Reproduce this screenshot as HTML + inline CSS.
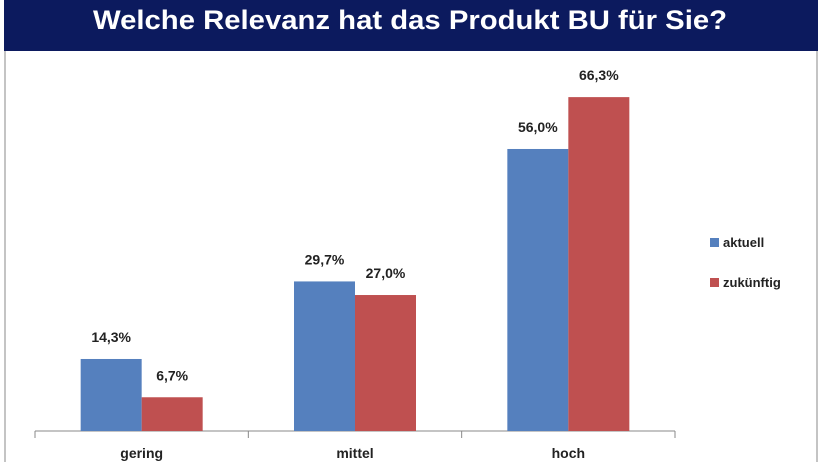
<!DOCTYPE html>
<html><head><meta charset="utf-8"><style>
body{margin:0;width:820px;height:462px;overflow:hidden;background:#fff;font-family:"Liberation Sans",sans-serif}
</style></head><body>
<svg width="820" height="462">
<rect x="4" y="0" width="814" height="51" fill="#0c1a5e"/>
<text x="410" y="29" text-anchor="middle" fill="#fff" font-weight="bold" font-size="27" textLength="634" lengthAdjust="spacingAndGlyphs">Welche Relevanz hat das Produkt BU für Sie?</text>
<line x1="5" y1="51" x2="5" y2="462" stroke="#888"/>
<line x1="817" y1="51" x2="817" y2="462" stroke="#888"/>
<g id="plot"></g>
<rect x="710" y="238" width="9" height="9" fill="#5580be"/>
<text x="723" y="247" font-size="13" font-weight="bold" fill="#222">aktuell</text>
<rect x="710" y="278" width="9" height="9" fill="#bf5050"/>
<text x="723" y="287" font-size="13" font-weight="bold" fill="#222">zukünftig</text>
</svg>
<script>
const categories=["gering","mittel","hoch"];
const aktuell=[14.3,29.7,56.0];
const zukuenftig=[6.7,27.0,66.3];
const labelsA=["14,3%","29,7%","56,0%"];
const labelsZ=["6,7%","27,0%","66,3%"];
const NS="http://www.w3.org/2000/svg";
const g=document.getElementById('plot');
const x0=35,x1=675,base=431,scale=5.036;
const band=(x1-x0)/categories.length;
const y=v=>base-v*scale;
function el(t,a){const e=document.createElementNS(NS,t);for(const k in a)e.setAttribute(k,a[k]);g.appendChild(e);return e;}
const ax=el('line',{x1:x0,y1:base,x2:x1,y2:base,stroke:'#888'});


for(let i=0;i<=categories.length;i++){const t=el('line',{x1:x0+i*band,y1:base,x2:x0+i*band,y2:base+7,stroke:'#888'});

}
categories.forEach((c,i)=>{
 const cx=x0+band*i+band/2;
 [[aktuell,labelsA,'#5580be',-61,'aktuell'],[zukuenftig,labelsZ,'#bf5050',0,'zukuenftig']].forEach(([s,l,col,off,nm])=>{
  const b=el('rect',{x:cx+off,y:y(s[i]),width:61,height:base-y(s[i]),fill:col});
  
  
  const t=el('text',{x:cx+off+30.5,y:y(s[i])-17,'text-anchor':'middle','font-size':14,'font-weight':'bold',fill:'#222'});
  t.textContent=l[i];
  
  
 });
 const lt=el('text',{x:cx,y:458,'text-anchor':'middle','font-size':14,'font-weight':'bold',fill:'#222'});
 lt.textContent=c;
 
 
});
</script>
</body></html>
